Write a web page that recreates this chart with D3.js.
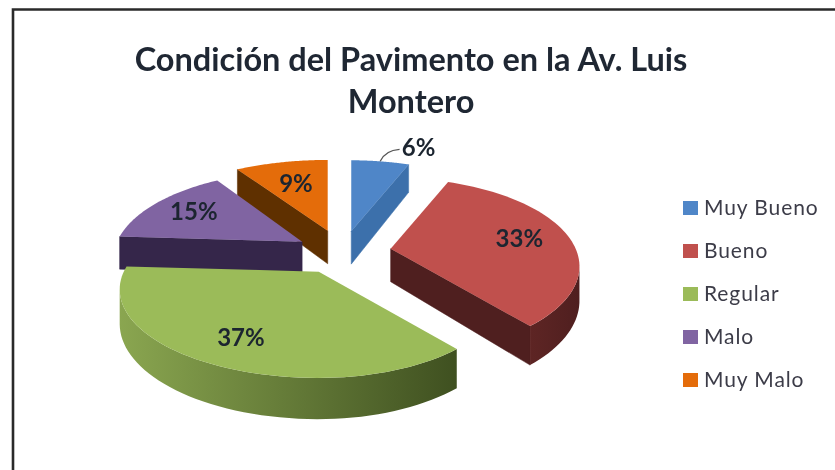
<!DOCTYPE html>
<meta charset="utf-8">
<head>
<style>
  html, body { margin: 0; padding: 0; background: #fff; }
  svg { display: block; filter: blur(0.7px); }
  .title { font-family: Lato, sans-serif; font-size: 32.5px; font-weight: 700; fill: #1f2733; text-anchor: middle; }
  .pct { font-family: Lato, sans-serif; font-size: 24px; font-weight: 700; fill: #1c2530; text-anchor: middle; }
  .legend-label { font-family: Lato, sans-serif; font-size: 21px; letter-spacing: 0.9px; fill: #3c3c48; }
</style>
<script src="https://d3js.org/d3.v7.min.js"></script>
</head>
<body>
<svg width="835" height="470"></svg>
<script>
// values
var categories = ["Muy Bueno", "Bueno", "Regular", "Malo", "Muy Malo"];
var percents = [6, 33, 37, 15, 9];
var titleLines = ["Condición del Pavimento en la Av. Luis", "Montero"];

// per slice styling
var topColors = ["#4f86c8", "#c0504d", "#9bbb59", "#8064a2", "#e46c0a"];
var wallColors = ["#3c70ab", "#4f1f1f", "#3f5020", "#35264a", "#5f3000"];
var rimLight = ["#3c70ab", "#5e2524", "#8aa650", "#35264a", "#5f3000"];
var explode = [0.25, 0.25, 0.26, 0.235, 0.26];
var widthFactor = [1, 1, 0.99, 0.94, 1];
var labelRadius = [1.23, 0.72, 0.76, 0.73, 0.65];

var svg = d3.select("svg");
var centerX = 342, centerY = 252;
var radiusLeft = 197, radiusRight = 185, radiusY = 85, tilt = 0.2, depth = 33;

// unit disc to screen, the scales carry the size of the pie
var xScale = d3.scaleLinear().domain([-1, 0, 1]).range([-radiusLeft, 0, radiusRight]);
var yScale = d3.scaleLinear().domain([-1, 1]).range([radiusY, -radiusY]);
var offX = d3.scaleLinear().domain([-1, 1]).range([centerX - radiusLeft, centerX + radiusLeft]);
var offY = d3.scaleLinear().domain([-1, 1]).range([centerY + radiusY, centerY - radiusY]);

function project(a, r, apex, drop, fx) {
  var u = Math.sin(a) * r, v = Math.cos(a) * r;
  var s = 1 / (1 + tilt * v);
  return [apex[0] + xScale(u) * s * fx, apex[1] + yScale(v) * s + (drop ? depth * s : 0)];
}

var pie = d3.pie().sort(null).value(function(d) { return d; });
var arcs = pie(percents);
var line = d3.line();

var defs = svg.append("defs");

// frame of the scanned page
svg.append("path")
  .attr("d", "M13,470V9.5H835")
  .attr("fill", "none").attr("stroke", "#2a2a2a").attr("stroke-width", 2.6);

svg.selectAll("text.title")
  .data(titleLines).enter().append("text")
  .attr("class", "title")
  .attr("x", 411)
  .attr("y", function(d, i) { return 71 + i * 42; })
  .text(function(d) { return d; });

function wall(p, q, color, g) {
  g.append("path")
    .attr("d", line([p[0], q[0], q[1], p[1]]) + "Z")
    .attr("fill", color).attr("stroke", color).attr("stroke-width", 0.5);
}

// back slices first so nearer ones lie on top
var order = [4, 3, 0, 1, 2];
order.forEach(function(i) {
  var d = arcs[i];
  var mid = (d.startAngle + d.endAngle) / 2;
  var apex = [offX(Math.sin(mid) * explode[i]), offY(Math.cos(mid) * explode[i])];
  var fx = widthFactor[i];
  var g = svg.append("g");
  var samples = d3.range(0, 61).map(function(k) {
    return d.startAngle + (d.endAngle - d.startAngle) * k / 60;
  });
  var top = samples.map(function(a) { return project(a, 1, apex, false, fx); });
  var bottom = samples.map(function(a) { return project(a, 1, apex, true, fx); });
  var apexBottom = [apex[0], apex[1] + depth];

  // cut faces, only those turned towards the viewer
  var first = top[0], last = top[top.length - 1];
  if (first[0] < apex[0] - 0.5) wall([apex, apexBottom], [first, bottom[0]], wallColors[i], g);
  if (last[0] > apex[0] + 0.5) wall([apex, apexBottom], [last, bottom[bottom.length - 1]], wallColors[i], g);

  // outer rim where the edge runs leftwards on screen
  var idx = d3.range(1, top.length).filter(function(k) { return top[k][0] < top[k - 1][0]; });
  if (idx.length) {
    var from = idx[0] - 1, to = idx[idx.length - 1];
    var upper = top.slice(from, to + 1), lower = bottom.slice(from, to + 1).reverse();
    var gradId = "rim" + i;
    var gradient = defs.append("linearGradient").attr("id", gradId)
      .attr("gradientUnits", "userSpaceOnUse")
      .attr("x1", d3.min(upper, function(p) { return p[0]; })).attr("y1", 0)
      .attr("x2", d3.max(upper, function(p) { return p[0]; })).attr("y2", 0);
    gradient.append("stop").attr("offset", 0).attr("stop-color", rimLight[i]);
    gradient.append("stop").attr("offset", 1).attr("stop-color", wallColors[i]);
    g.append("path")
      .attr("d", line(upper.concat(lower)) + "Z")
      .attr("fill", "url(#" + gradId + ")");
  }

  g.append("path")
    .attr("d", line([apex].concat(top)) + "Z")
    .attr("fill", topColors[i]);

  // data label, the small slice sits outside with a leader
  var outside = i === 0;
  var lp = project(mid, labelRadius[i], apex, false, fx);
  var lx = lp[0] + (outside ? 33 : 0);
  svg.append("text").attr("class", "pct")
    .attr("x", lx).attr("y", lp[1] + 8)
    .text(percents[i] + "%");
  if (outside) {
    var rimPt = project(mid, 1, apex, false, fx);
    var lead = d3.path();
    lead.moveTo(rimPt[0], rimPt[1]);
    lead.quadraticCurveTo(rimPt[0] + 5, lp[1] + 2, lx - 19, lp[1] + 1);
    svg.append("path").attr("d", lead.toString())
      .attr("fill", "none").attr("stroke", "#555").attr("stroke-width", 1.3);
  }
});
svg.selectAll("text.pct").raise();

// legend
var legendY = d3.scalePoint().domain(categories).range([208, 380]);
var legend = svg.selectAll("g.legend").data(categories).enter().append("g")
  .attr("class", "legend")
  .attr("transform", function(d) { return "translate(683," + legendY(d) + ")"; });
legend.append("rect")
  .attr("x", 0).attr("y", -7).attr("width", 15).attr("height", 14)
  .attr("fill", function(d, i) { return topColors[i]; });
legend.append("text")
  .attr("class", "legend-label")
  .attr("x", 21).attr("y", 7)
  .text(function(d) { return d; });
</script>
</body>
